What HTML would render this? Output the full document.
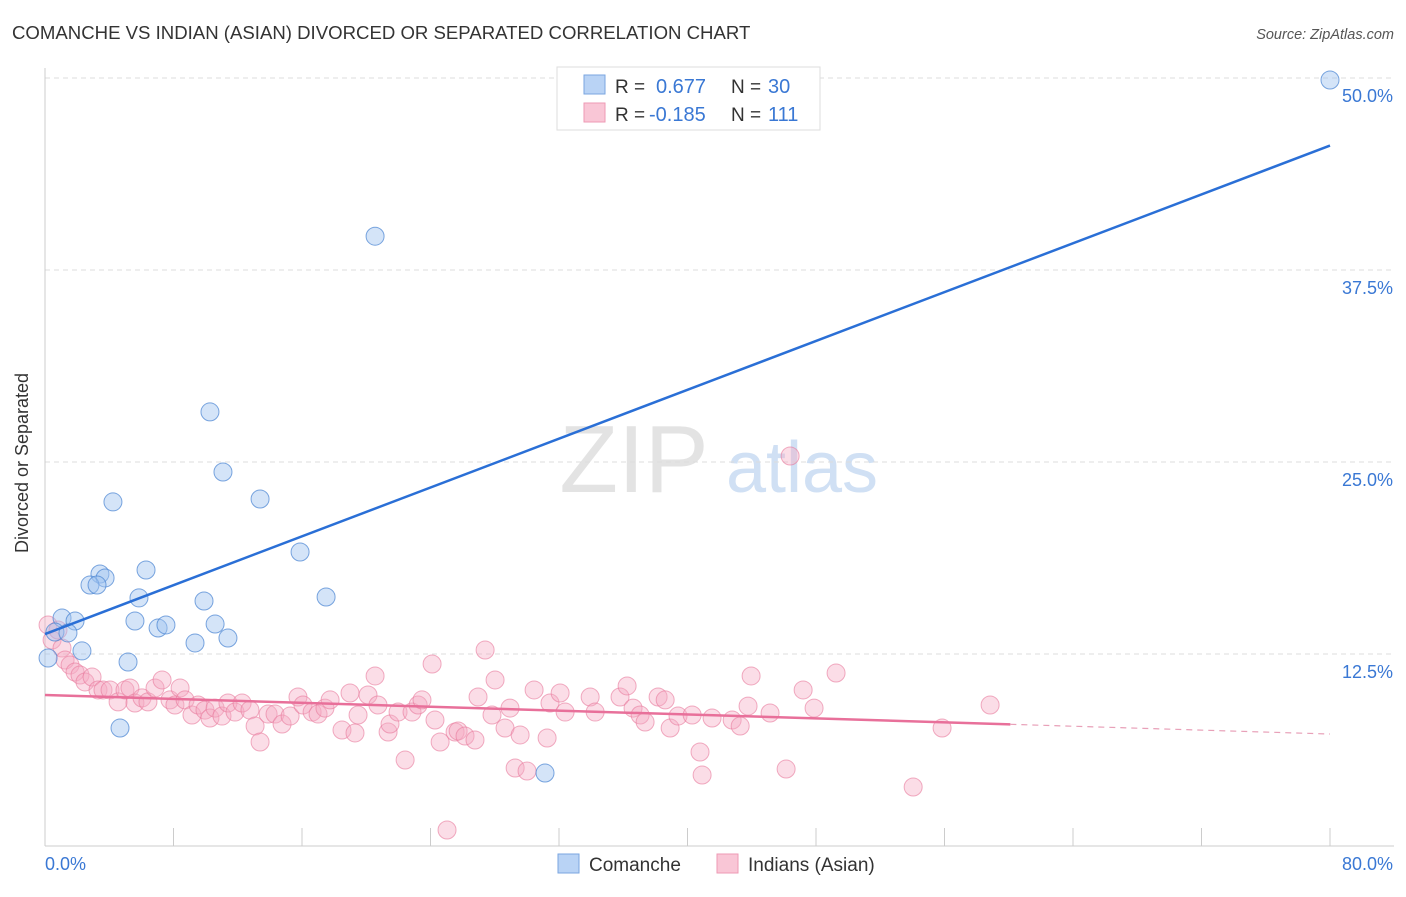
<!DOCTYPE html>
<html><head><meta charset="utf-8"><style>
body{margin:0;background:#fff;font-family:"Liberation Sans",sans-serif}
svg text{font-family:"Liberation Sans",sans-serif}
</style></head><body>
<svg id="c" width="1406" height="892" xmlns="http://www.w3.org/2000/svg">
<text x="12" y="39" font-size="18.6" fill="#333">COMANCHE VS INDIAN (ASIAN) DIVORCED OR SEPARATED CORRELATION CHART</text>
<text x="1394" y="39" font-size="14.5" fill="#555" font-style="italic" text-anchor="end">Source: ZipAtlas.com</text>
<g><text x="634" y="492" font-size="96" fill="#e3e3e3" font-family="Liberation Serif,serif" text-anchor="middle">ZIP</text><text x="802" y="492" font-size="72" fill="#d0e0f4" text-anchor="middle">atlas</text></g>
<g id="grid"></g>
<g id="axes"></g>
<g id="pts"></g>
<g id="trend"></g>
<text x="20" y="455" font-size="18" fill="#333" transform="rotate(-90 28 455)" text-anchor="middle">Divorced or Separated</text>
<g>
<rect x="557" y="67" width="263" height="63" fill="#fff" stroke="#ddd"/>
<rect x="584" y="75" width="21" height="19" fill="#b9d3f5" stroke="#7aa6e0"/>
<rect x="584" y="103" width="21" height="19" fill="#f9c6d6" stroke="#ee9ab4"/>
<text x="615" y="93" font-size="19" fill="#333">R = </text><text x="656" y="93" font-size="20" fill="#3a78d4">0.677</text>
<text x="731" y="93" font-size="19" fill="#333">N = </text><text x="768" y="93" font-size="20" fill="#3a78d4">30</text>
<text x="615" y="121" font-size="19" fill="#333">R = </text><text x="649" y="121" font-size="20" fill="#3a78d4">-0.185</text>
<text x="731" y="121" font-size="19" fill="#333">N = </text><text x="768" y="121" font-size="20" fill="#3a78d4">111</text>
</g>
<g>
<rect x="558" y="854" width="21" height="19" fill="#b9d3f5" stroke="#7aa6e0"/>
<text x="589" y="871" font-size="19" fill="#333">Comanche</text>
<rect x="717" y="854" width="21" height="19" fill="#f9c6d6" stroke="#ee9ab4"/>
<text x="748" y="871" font-size="19" fill="#333">Indians (Asian)</text>
</g>
</svg>
<script>
const yTicks=[12.5,25,37.5,50];
const yTickLabels=["12.5%","25.0%","37.5%","50.0%"];
const xTicks=[0,8,16,24,32,40,48,56,64,72,80];
const xEndLabels=["0.0%","80.0%"];
const blueX=[80,20.55,10.27,11.08,4.23,13.39,15.88,6.29,3.42,3.74,2.8,3.24,5.85,17.5,9.9,1.06,1.87,5.6,10.59,7.04,7.53,0.62,1.43,11.39,9.34,2.3,5.17,0.19,4.67,31.13];
const blueY=[49.87,39.7,28.26,24.35,22.4,22.59,19.14,17.97,17.71,17.45,16.99,16.99,16.15,16.21,15.95,14.84,14.65,14.65,14.45,14.19,14.39,13.93,13.87,13.54,13.22,12.7,11.98,12.24,7.68,4.75];
const pinkX=[0.19,0.44,0.81,1.06,1.25,1.56,1.87,2.18,2.49,2.93,3.3,3.61,4.05,4.55,4.98,5.29,5.6,6.04,6.41,6.85,7.29,7.78,8.09,8.41,8.72,9.15,9.53,9.96,10.27,10.59,11.02,11.39,11.83,12.27,12.76,13.08,13.39,13.89,14.32,14.76,15.26,15.75,16.06,16.63,17,17.43,17.75,18.49,18.99,19.3,19.49,20.11,20.55,20.73,21.36,21.48,21.98,22.42,22.85,23.23,23.47,24.1,24.28,24.6,25.03,25.53,25.72,26.15,26.77,27.4,26.96,27.83,28.02,28.64,28.95,29.27,30.01,29.58,30.45,31.26,31.44,32.07,32.38,33.94,34.25,35.8,36.24,36.61,37.05,37.36,38.17,38.61,38.92,39.41,40.29,40.78,40.91,41.53,42.78,43.28,43.77,43.96,45.14,46.14,46.39,47.2,47.88,49.25,54.05,55.85,58.84];
const pinkY=[14.39,13.41,14.06,12.89,12.11,11.78,11.33,11.13,10.68,11,10.16,10.16,10.16,9.38,10.16,10.29,9.31,9.64,9.38,10.29,10.81,9.51,9.18,10.29,9.51,8.53,9.18,8.85,8.33,8.98,8.46,9.31,8.72,9.31,8.85,7.81,6.77,8.59,8.59,7.94,8.46,9.7,9.18,8.72,8.59,8.98,9.51,7.55,9.96,7.36,8.53,9.83,11.07,9.18,7.42,7.94,8.72,5.6,8.72,9.18,9.51,11.85,8.2,6.77,1.04,7.42,7.49,7.16,6.9,12.76,9.7,8.53,10.81,7.68,8.98,5.08,4.88,7.23,10.16,7.03,9.31,9.96,8.72,9.7,8.72,9.7,10.42,8.98,8.53,8.07,9.7,9.51,7.68,8.46,8.53,6.12,4.62,8.33,8.2,7.81,9.11,11.07,8.66,5.01,25.39,10.16,8.98,11.26,3.84,7.68,9.18];
const blueTrend=[13.8,45.6];
const pinkTrend=[9.83,7.29];
const pinkSolidEnd=60.1;

const X=v=>45+v*(1285/80), Y=v=>846-v*15.36;
const NS="http://www.w3.org/2000/svg";
function mk(t,a,p){const e=document.createElementNS(NS,t);for(const k in a)e.setAttribute(k,a[k]);p.appendChild(e);return e;}
const grid=document.getElementById('grid'),axes=document.getElementById('axes'),pts=document.getElementById('pts'),tr=document.getElementById('trend');
yTicks.forEach((v,i)=>{
 const l=mk('line',{x1:45,x2:1394,y1:Y(v),y2:Y(v),stroke:'#ddd','stroke-dasharray':'5,4'},grid);
 
 
 const t=mk('text',{x:1393,y:Y(v)+24,'font-size':18,fill:'#3a78d4','text-anchor':'end'},axes);
 t.textContent=yTickLabels[i];
 
 
});
let a=mk('line',{x1:45,x2:45,y1:68,y2:846,stroke:'#ccc'},axes);


a=mk('line',{x1:45,x2:1394,y1:846,y2:846,stroke:'#ccc'},axes);


xTicks.forEach(v=>{const t=mk('line',{x1:X(v),x2:X(v),y1:828,y2:846,stroke:'#ccc'},axes);
 
 });
let t=mk('text',{x:45,y:870,'font-size':18,fill:'#3a78d4'},axes);t.textContent=xEndLabels[0];


t=mk('text',{x:1393,y:870,'font-size':18,fill:'#3a78d4','text-anchor':'end'},axes);t.textContent=xEndLabels[1];


pinkX.forEach((x,i)=>{const c=mk('circle',{cx:X(x),cy:Y(pinkY[i]),r:9,fill:'rgba(246,170,195,0.4)',stroke:'rgba(232,120,155,0.6)','stroke-width':1},pts);
 
 });
blueX.forEach((x,i)=>{const c=mk('circle',{cx:X(x),cy:Y(blueY[i]),r:9,fill:'rgba(160,196,240,0.45)',stroke:'rgba(70,130,210,0.7)','stroke-width':1},pts);
 
 });
let l=mk('line',{x1:X(0),y1:Y(blueTrend[0]),x2:X(80),y2:Y(blueTrend[1]),stroke:'#2a6fd6','stroke-width':2.5},tr);


const py=x=>pinkTrend[0]+(pinkTrend[1]-pinkTrend[0])*x/80;
l=mk('line',{x1:X(0),y1:Y(py(0)),x2:X(pinkSolidEnd),y2:Y(py(pinkSolidEnd)),stroke:'#e8709a','stroke-width':2.5},tr);


l=mk('line',{x1:X(pinkSolidEnd),y1:Y(py(pinkSolidEnd)),x2:X(80),y2:Y(py(80)),stroke:'#e8a0b8','stroke-width':1.2,'stroke-dasharray':'6,5'},tr);


</script>
</body></html>
